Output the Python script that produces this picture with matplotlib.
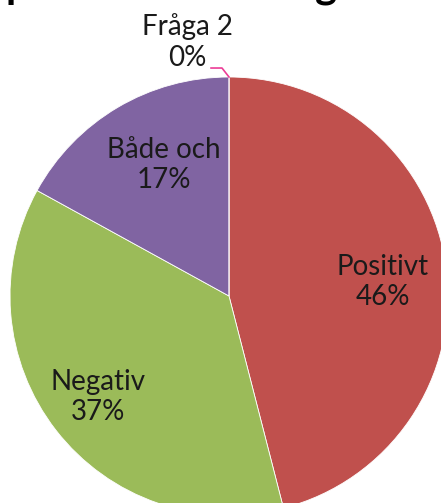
import numpy as np
import matplotlib
matplotlib.use("Agg")
import matplotlib.pyplot as plt

plt.rcParams['font.family'] = ['Lato', 'DejaVu Sans']

categories = ["Positivt", "Negativ", "Både och", "Fråga 2"]
values = [46, 37, 17, 0]
colors = ["#C0504D", "#9BBB59", "#8064A2", "#4F81BD"]
title = "Spontan inställning"

W, H = 441, 503
fig = plt.figure(figsize=(W / 100, H / 100), dpi=100)

# pie centre (229, 296) px from top-left, radius 219 px
cx, cy, r = 229, 296, 219
ax = fig.add_axes([(cx - r) / W, (H - cy - r) / H, 2 * r / W, 2 * r / H])

wedges, _ = ax.pie(values, colors=colors, startangle=90, counterclock=False,
                   radius=1, wedgeprops=dict(linewidth=0.6, edgecolor='white'))
ax.set_xlim(-1, 1)
ax.set_ylim(-1, 1)
ax.axis('off')
for w in wedges:
    w.set_clip_on(False)

total = sum(values)
# label placement: (radial distance, angular tweak in degrees) per wedge
placement = [(0.706, -2.0), (0.755, 0.0), (0.668, -4.0)]
fs = 20
ls = 1.2
for w, cat, v, (d, tweak) in zip(wedges[:3], categories[:3], values[:3], placement):
    ang = np.deg2rad((w.theta1 + w.theta2) / 2 + tweak)
    x, y = d * np.cos(ang), d * np.sin(ang)
    ax.text(x, y, f"{cat}\n{v / total:.0%}", ha='center', va='center',
            fontsize=fs, color='#1a1a1a', linespacing=ls, clip_on=False)

# zero slice label with leader line
w0 = wedges[3]
ang0 = np.deg2rad(w0.theta1)
px, py = np.cos(ang0), np.sin(ang0)
ax.plot([px, px - 0.032, px - 0.082], [py, py + 0.041, py + 0.041],
        color='#EC3C96', lw=1.2, clip_on=False)
ax.text(-0.192, 1.16, f"{categories[3]}\n{values[3] / total:.0%}", ha='center',
        va='center', fontsize=fs, color='#1a1a1a', linespacing=ls, clip_on=False)

# title: only its descenders reach into the picture (as in the reference)
renderer = fig.canvas.get_renderer()
probe_kw = dict(fontsize=10, fontweight='bold')
def _w(s):
    t = fig.text(0, 0, s, **probe_kw)
    e = t.get_window_extent(renderer).width
    t.remove()
    return e
a = _w(title[:1])              # width before the 'p'
b = _w(title)                  # full width (ends with 'g')
target_left, target_right = 6.0, 337.0
scale = (target_right - target_left) / (b - a)
tfs = 10 * scale
x0 = target_left - a * scale
fig.text(x0 / W, 1 - 5 / H, title, fontsize=tfs, fontweight='bold',
         ha='left', va='bottom', color='black')

fig.savefig("out.png", dpi=100)
